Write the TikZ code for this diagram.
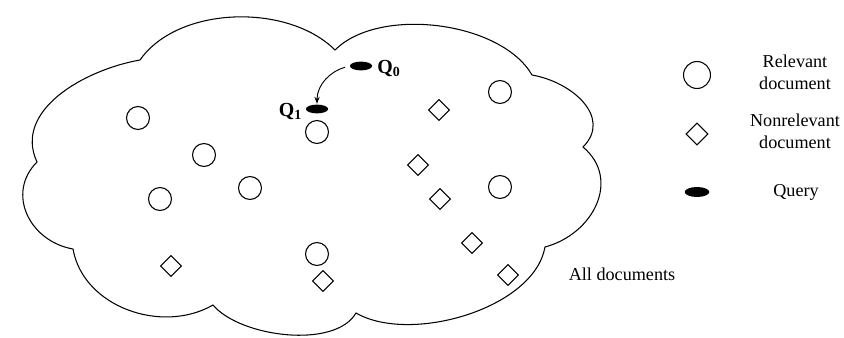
\documentclass[tikz,border=0pt]{standalone}
\usepackage{fontspec}
\setmainfont{Liberation Serif}
\usetikzlibrary{shapes.geometric,arrows.meta,positioning}

\begin{document}
\begin{tikzpicture}[
x=0.03cm, y=0.03cm,
every node/.style={font=\fontsize{15.5}{18.8}\selectfont},
reldoc/.style={circle,draw,line width=0.9pt,inner sep=0pt,minimum size=19.6pt},
nonrel/.style={diamond,draw,line width=0.9pt,inner sep=0pt,minimum size=18pt},
query/.style={ellipse,fill=black,inner sep=0pt,minimum width=19pt,minimum height=7.5pt},
qlabel/.style={font=\fontsize{17}{19}\selectfont\bfseries,inner sep=0pt},
legtext/.style={align=center,inner sep=0pt}
]
\useasboundingbox (0,0) rectangle (844,-338);

% the cloud of all documents
\draw[line width=0.9pt] (37,-162)
  to[out=115,in=190] (140,-60)
  to[out=55,in=135,looseness=0.87] (335,-50)
  to[out=45,in=120,looseness=0.8] (532,-75)
  to[out=-10,in=45,looseness=1.2] (583,-147)
  to[out=-40,in=15,looseness=1.2] (545,-247)
  to[out=-100,in=-30,looseness=0.8] (356,-313)
  to[out=-120,in=-50,looseness=0.75] (213,-305)
  to[out=-150,in=-80,looseness=1.0] (73,-249)
  to[out=170,in=-135,looseness=1.2] cycle;

% relevant documents
\node[reldoc] (r1) at (138,-118) {};
\node[reldoc] (r2) at (204,-155) {};
\node[reldoc] (r3) at (250,-188) {};
\node[reldoc] (r4) at (160,-199) {};
\node[reldoc] (r5) at (317,-132) {};
\node[reldoc] (r6) at (317,-254) {};
\node[reldoc] (r7) at (500,-92) {};
\node[reldoc] (r8) at (500,-187) {};

% nonrelevant documents
\node[nonrel] (n1) at (439,-110) {};
\node[nonrel] (n2) at (418,-165) {};
\node[nonrel] (n3) at (440,-199) {};
\node[nonrel] (n4) at (472,-243) {};
\node[nonrel] (n5) at (508,-275) {};
\node[nonrel] (n6) at (171,-266) {};
\node[nonrel] (n7) at (323,-281) {};

% queries
\node[query] (q0) at (361,-66) {};
\node[query] (q1) at (317,-109) {};
\node[qlabel,anchor=west] (q0lab) at ([xshift=4pt,yshift=-2pt]q0.east) {Q\textsubscript{0}};
\node[qlabel,anchor=east] (q1lab) at ([xshift=-3pt,yshift=-2pt]q1.west) {Q\textsubscript{1}};
\draw[-{Stealth[length=6pt,width=4.5pt]},line width=0.8pt,shorten <=4pt,shorten >=0.5pt]
  (q0.west) to[out=195,in=90] (q1.north);

\node[legtext] (all) at (622,-274) {All documents};

% legend
\node[reldoc,minimum size=23pt] (legrel) at (697,-75) {};
\node[nonrel,minimum size=19pt] (legnon) at (697,-134) {};
\node[query,minimum width=21pt,minimum height=8.5pt] (legq) at (697,-192) {};
\node[legtext] (legreltxt) at (795,-72) {Relevant\\document};
\node[legtext] (legnontxt) at (795,-131) {Nonrelevant\\document};
\node[legtext] (legqtxt) at (796,-192) {Query};
\end{tikzpicture}
\end{document}
